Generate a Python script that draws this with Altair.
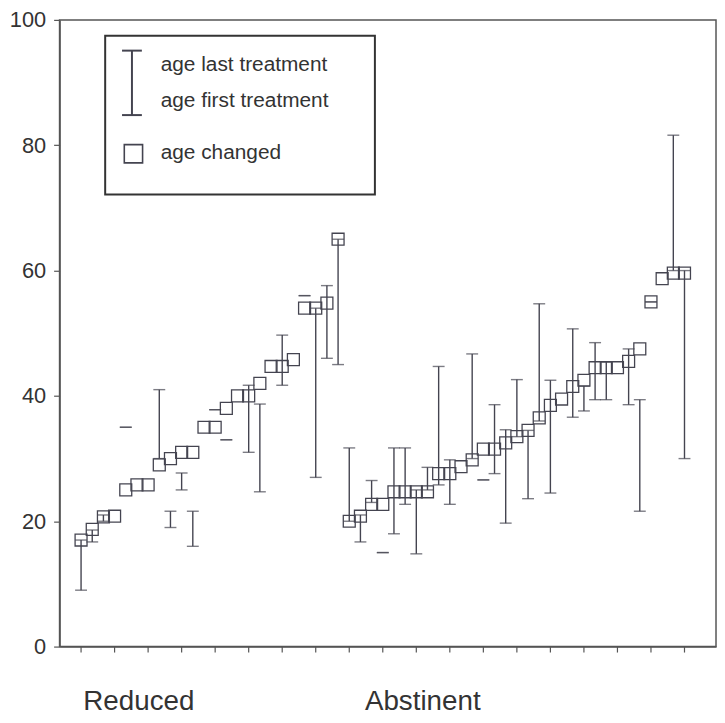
import altair as alt
import pandas as pd
import numpy as np

# ---- data ----
items = list(range(1, 56))
age_changed = [17, 18.7, 20.7, 20.8, 25, 25.8, 25.8, 29, 30, 31, 31, 35, 35, 38, 40, 40, 42, 44.7, 44.7, 45.8,
               54, 54, 54.8, 65,
               20, 20.8, 22.7, 22.7, 24.7, 24.7, 24.7, 24.7, 27.6, 27.6, 28.7, 29.8, 31.5, 31.5, 32.5, 33.5,
               34.5, 36.5, 38.5, 39.5, 41.5, 42.5, 44.5, 44.5, 44.5, 45.5, 47.5, 55, 58.7, 59.6, 59.6]
age_first = [9, 16.7, 20, None, 35, None, None, 30, 19, 25, 16, None, 37.8, 33, None, 31, 24.7, None, 41.7, None,
             56, 27, 46, 45,
             20, 16.7, 23, 15, 18, 22.7, 14.8, 25, 25.8, 22.7, None, 30, 26.6, 27.6, 19.7, 33.5,
             23.6, 36, 24.5, None, 36.6, 37.6, 39.4, 39.4, None, 38.6, 21.6, 55, None, 60, 30]
age_last = [17, 18.6, 21, None, 35, None, None, 41, 21.6, 27.7, 21.6, None, 37.8, 33, None, 41.7, 38.7, None, 49.7, None,
            56, 54, 57.6, 65,
            31.7, 21, 26.5, 15, 31.7, 31.7, 25, 28.6, 44.7, 29.8, None, 46.7, 26.6, 38.6, 34.6, 42.6,
            34.5, 54.7, 42.5, None, 50.7, 41.6, 48.5, 45.4, None, 47.5, 39.4, 55, None, 81.6, 60]
group_labels = ["Reduced", "Abstinent"]
group_label_pos = [1.2, 26.4]
y_ticks = [0, 20, 40, 60, 80, 100]
x_ticks = list(range(1, 56, 3))
legend_texts = ["age last treatment", "age first treatment", "age changed"]

FONT = "Liberation Sans"
INK = "#444450"
AX = "#555"
W, H = 662, 632

df = pd.DataFrame({"item": items, "changed": age_changed,
                   "first": [np.nan if v is None else v for v in age_first],
                   "last": [np.nan if v is None else v for v in age_last]})
bars = df.dropna(subset=["first", "last"])
caps = pd.concat([
    bars[["item", "first"]].rename(columns={"first": "v"}),
    bars[["item", "last"]].rename(columns={"last": "v"}),
])

xs = alt.Scale(domain=[-0.924, 57.82], nice=False, zero=False)
ys = alt.Scale(domain=[0, 100], nice=False)

xaxis = alt.Axis(labels=False, ticks=False, title=None, grid=False,
                 domainColor=AX, domainWidth=1.5)
yaxis = alt.Axis(values=y_ticks, title=None, grid=False, tickSize=6, labelPadding=8,
                 labelFont=FONT, labelFontSize=22, labelColor="#333",
                 domainColor=AX, tickColor=AX, domainWidth=1.5, tickWidth=1.2)

rules = alt.Chart(bars).mark_rule(color=INK, strokeWidth=1.4).encode(
    x=alt.X("item:Q", scale=xs, axis=xaxis),
    y=alt.Y("first:Q", scale=ys, axis=yaxis),
    y2="last:Q",
)
capmarks = alt.Chart(caps).mark_tick(color=INK, orient="horizontal", size=12, thickness=1.4).encode(
    x=alt.X("item:Q", scale=xs),
    y=alt.Y("v:Q", scale=ys),
)
boxes = alt.Chart(df).mark_point(shape="square", size=145, filled=False, color=INK,
                                 strokeWidth=1.3, opacity=1).encode(
    x=alt.X("item:Q", scale=xs),
    y=alt.Y("changed:Q", scale=ys),
)
xticks = alt.Chart(pd.DataFrame({"t": x_ticks})).mark_rule(color=AX, strokeWidth=1.2).encode(
    x=alt.X("t:Q", scale=xs), y=alt.value(H), y2=alt.value(H + 6))
glab = alt.Chart(pd.DataFrame({"t": group_labels, "p": group_label_pos})).mark_text(
    align="left", baseline="middle", font=FONT, fontSize=28, color="#333"
).encode(x=alt.X("p:Q", scale=xs), y=alt.value(H + 56), text="t:N")

# ---- legend box drawn by hand ----
one = pd.DataFrame({"a": [0]})
leg_rect = alt.Chart(one).mark_rect(fill="white", stroke="#333", strokeWidth=2).encode(
    x=alt.value(46), x2=alt.value(318), y=alt.value(16), y2=alt.value(176))
leg_bar = alt.Chart(one).mark_rule(color=INK, strokeWidth=2).encode(
    x=alt.value(73), y=alt.value(31), y2=alt.value(96))
leg_cap1 = alt.Chart(one).mark_rule(color=INK, strokeWidth=2).encode(
    x=alt.value(63), x2=alt.value(83), y=alt.value(31))
leg_cap2 = alt.Chart(one).mark_rule(color=INK, strokeWidth=2).encode(
    x=alt.value(63), x2=alt.value(83), y=alt.value(96))
leg_sq = alt.Chart(one).mark_point(shape="square", size=340, filled=False, color=INK,
                                   strokeWidth=1.6, opacity=1).encode(
    x=alt.value(74.5), y=alt.value(135))
leg_txt = alt.Chart(pd.DataFrame({"t": legend_texts, "yy": [46, 82, 134]})).mark_text(
    align="left", baseline="middle", font=FONT, fontSize=21, color="#333"
).encode(x=alt.value(102), y=alt.Y("yy:Q", scale=None), text="t:N")

chart = alt.layer(
    rules, capmarks, boxes, xticks, glab, leg_rect, leg_bar, leg_cap1, leg_cap2, leg_sq, leg_txt
).properties(
    width=W, height=H,
    autosize=alt.AutoSizeParams(type="none"),
    padding={"left": 52, "top": 9, "right": 1, "bottom": 66},
    background="white",
).configure_view(stroke=AX, strokeWidth=1.5)

chart.save("out.html", embed_options={"renderer": "svg", "actions": False})
